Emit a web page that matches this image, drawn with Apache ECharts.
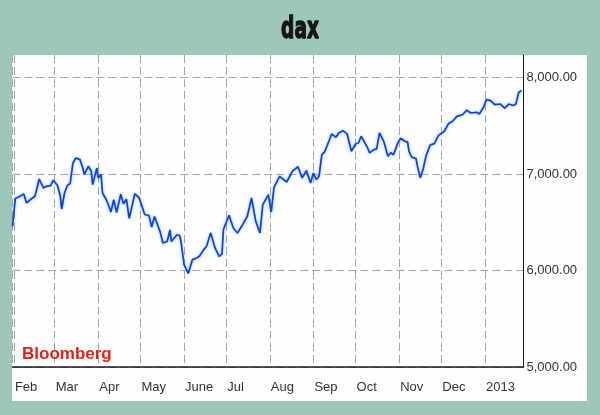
<!DOCTYPE html>
<html>
<head>
<meta charset="utf-8">
<script src="https://cdn.jsdelivr.net/npm/echarts@6/dist/echarts.min.js"></script>
<style>
  html, body { margin: 0; padding: 0; background: #9dc7b7; }
  #chart { width: 600px; height: 415px; }
</style>
</head>
<body>
<div id="chart"></div>
<script>
// ---- data ----
const chartTitle = 'dax';
const sourceLabel = 'Bloomberg';
const monthLabels = ['Jan','Feb','Mar','Apr','May','June','Jul','Aug','Sep','Oct','Nov','Dec'];
const yTicks = [5000, 6000, 7000, 8000];
const xStart = '2012-01-31';
const xEnd = '2013-01-28 10:00:00';
const yMin = 5000;
const yMax = 8233;

const dates = [
  '2012-01-31','2012-02-02','2012-02-03','2012-02-06','2012-02-08','2012-02-10','2012-02-13','2012-02-16',
  '2012-02-19','2012-02-22','2012-02-24','2012-02-27','2012-02-29','2012-03-03','2012-03-05','2012-03-06',
  '2012-03-08','2012-03-10','2012-03-12','2012-03-14','2012-03-16','2012-03-19','2012-03-21','2012-03-22',
  '2012-03-25','2012-03-27','2012-03-28','2012-03-31','2012-04-01','2012-04-03','2012-04-04','2012-04-07',
  '2012-04-10','2012-04-12','2012-04-14','2012-04-17','2012-04-19','2012-04-21','2012-04-23','2012-04-27',
  '2012-04-30','2012-05-04','2012-05-07','2012-05-09','2012-05-11','2012-05-15','2012-05-17','2012-05-20',
  '2012-05-22','2012-05-23','2012-05-27','2012-05-29','2012-05-30','2012-06-01','2012-06-04','2012-06-07',
  '2012-06-10','2012-06-12','2012-06-15','2012-06-17','2012-06-20','2012-06-23','2012-06-26','2012-06-28',
  '2012-06-29','2012-07-03','2012-07-06','2012-07-09','2012-07-12','2012-07-16','2012-07-19','2012-07-22',
  '2012-07-25','2012-07-27','2012-07-31','2012-08-02','2012-08-04','2012-08-08','2012-08-13','2012-08-17',
  '2012-08-21','2012-08-24','2012-08-27','2012-08-30','2012-09-01','2012-09-03','2012-09-05','2012-09-07',
  '2012-09-09','2012-09-12','2012-09-14','2012-09-17','2012-09-19','2012-09-22','2012-09-25','2012-09-28',
  '2012-10-01','2012-10-03','2012-10-05','2012-10-09','2012-10-11','2012-10-14','2012-10-16','2012-10-18',
  '2012-10-21','2012-10-24','2012-10-26','2012-10-28','2012-10-31','2012-11-02','2012-11-05','2012-11-07',
  '2012-11-08','2012-11-10','2012-11-13','2012-11-14','2012-11-16','2012-11-18','2012-11-20','2012-11-23',
  '2012-11-26','2012-11-29','2012-12-03','2012-12-06','2012-12-09','2012-12-12','2012-12-16','2012-12-19',
  '2012-12-22','2012-12-26','2012-12-28','2012-12-31','2013-01-02','2013-01-05','2013-01-08','2013-01-12',
  '2013-01-15','2013-01-18','2013-01-21','2013-01-23','2013-01-25','2013-01-27'
];
const values = [
  6458, 6745, 6765, 6775, 6793, 6700, 6738, 6769,
  6948, 6855, 6872, 6880, 6935, 6880, 6769, 6637,
  6803, 6880, 6900, 7114, 7166, 7149, 7062, 6994,
  7080, 7028, 6890, 7062, 6959, 6994, 6803, 6725,
  6606, 6735, 6600, 6790, 6690, 6740, 6540, 6795,
  6755, 6580, 6570, 6450, 6560, 6400, 6285, 6300,
  6420, 6300, 6370, 6360, 6285, 6061, 5970, 6113,
  6130, 6150, 6216, 6251, 6390, 6234, 6147, 6170,
  6424, 6572, 6440, 6389, 6458, 6562, 6751, 6510,
  6389, 6683, 6786, 6606, 6862, 6976, 6917, 7028,
  7075, 6959, 7035, 6907, 7010, 6941, 6976, 7201,
  7228, 7339, 7415, 7380, 7425, 7449, 7415, 7235,
  7311, 7321, 7391, 7287, 7218, 7253, 7260, 7425,
  7339, 7183, 7220, 7200, 7320, 7370, 7339, 7330,
  7235, 7173, 7159, 7080, 6960, 7046, 7183, 7300,
  7315, 7400, 7440, 7520, 7546, 7597, 7614, 7660,
  7632, 7640, 7621, 7691, 7770, 7760, 7718, 7725,
  7683, 7725, 7710, 7725, 7845, 7865
];

// ---- chart ----
const chart = echarts.init(document.getElementById('chart'), null, { renderer: 'canvas' });
const gridColor = '#a5a5a5';

function fmtY(v) {
  if (yTicks.indexOf(v) < 0) return '';
  return v.toLocaleString('en-US', { minimumFractionDigits: 2, maximumFractionDigits: 2 });
}
function fmtX(v) {
  const d = new Date(v);
  if (d.getDate() !== 1 || d.getHours() !== 0) return '';
  const m = d.getMonth();
  return m === 0 ? String(d.getFullYear()) : monthLabels[m];
}

const option = {
  backgroundColor: '#9dc7b7',
  animation: false,
  grid: { left: 12.5, right: 76.5, top: 55, bottom: 48, containLabel: false },
  graphic: [
    { type: 'rect', z: -100, silent: true,
      shape: { x: 12, y: 55, width: 575, height: 346 },
      style: { fill: '#fdfefd' } },
    { type: 'text', x: 300, y: 30, scaleX: 0.62, z: 10, silent: true,
      style: { text: chartTitle, font: 'bold 30px "DejaVu Sans"', fill: '#151515',
               stroke: '#151515', lineWidth: 1.4,
               align: 'center', verticalAlign: 'middle' } },
    { type: 'text', x: 22, y: 354, z: 10, silent: true,
      style: { text: sourceLabel, font: 'bold 17px "Liberation Sans"', fill: '#e3201b',
               align: 'left', verticalAlign: 'middle' } }
  ],
  xAxis: {
    type: 'time',
    min: xStart,
    max: xEnd,
    splitNumber: 12,
    minInterval: 28 * 86400000,
    maxInterval: 31 * 86400000,
    axisLine: { show: true, onZero: false, lineStyle: { color: '#1a1a1a', width: 1.5 } },
    axisTick: { show: false },
    splitLine: { show: true, lineStyle: { color: gridColor, width: 1, type: [8, 4] } },
    axisLabel: {
      formatter: fmtX, align: 'left', margin: 14, padding: [0, 0, 0, 1],
      color: '#333', fontSize: 13, fontFamily: '"Liberation Sans", Arial, sans-serif',
      hideOverlap: false, showMinLabel: true, showMaxLabel: true
    }
  },
  yAxis: {
    type: 'value',
    position: 'right',
    min: yMin,
    max: yMax,
    interval: 1000,
    axisLine: { show: true, onZero: false, lineStyle: { color: '#1a1a1a', width: 1 } },
    axisTick: { show: false },
    splitLine: { show: true, lineStyle: {
      color: [gridColor, gridColor, gridColor, gridColor, 'rgba(0,0,0,0)'], width: 1, type: [8, 4] } },
    axisLabel: {
      formatter: fmtY, margin: 3, padding: [8, 0, 0, 0],
      color: '#333', fontSize: 13, fontFamily: '"Liberation Sans", Arial, sans-serif',
      showMaxLabel: false
    }
  },
  series: [{
    type: 'line',
    data: dates.map((d, i) => [d, values[i]]),
    showSymbol: false,
    smooth: false,
    z: 5,
    lineStyle: { color: '#1242d0', width: 1.7, shadowColor: 'rgba(90,160,255,0.7)', shadowBlur: 3 }
  }]
};
chart.setOption(option);
</script>
</body>
</html>
